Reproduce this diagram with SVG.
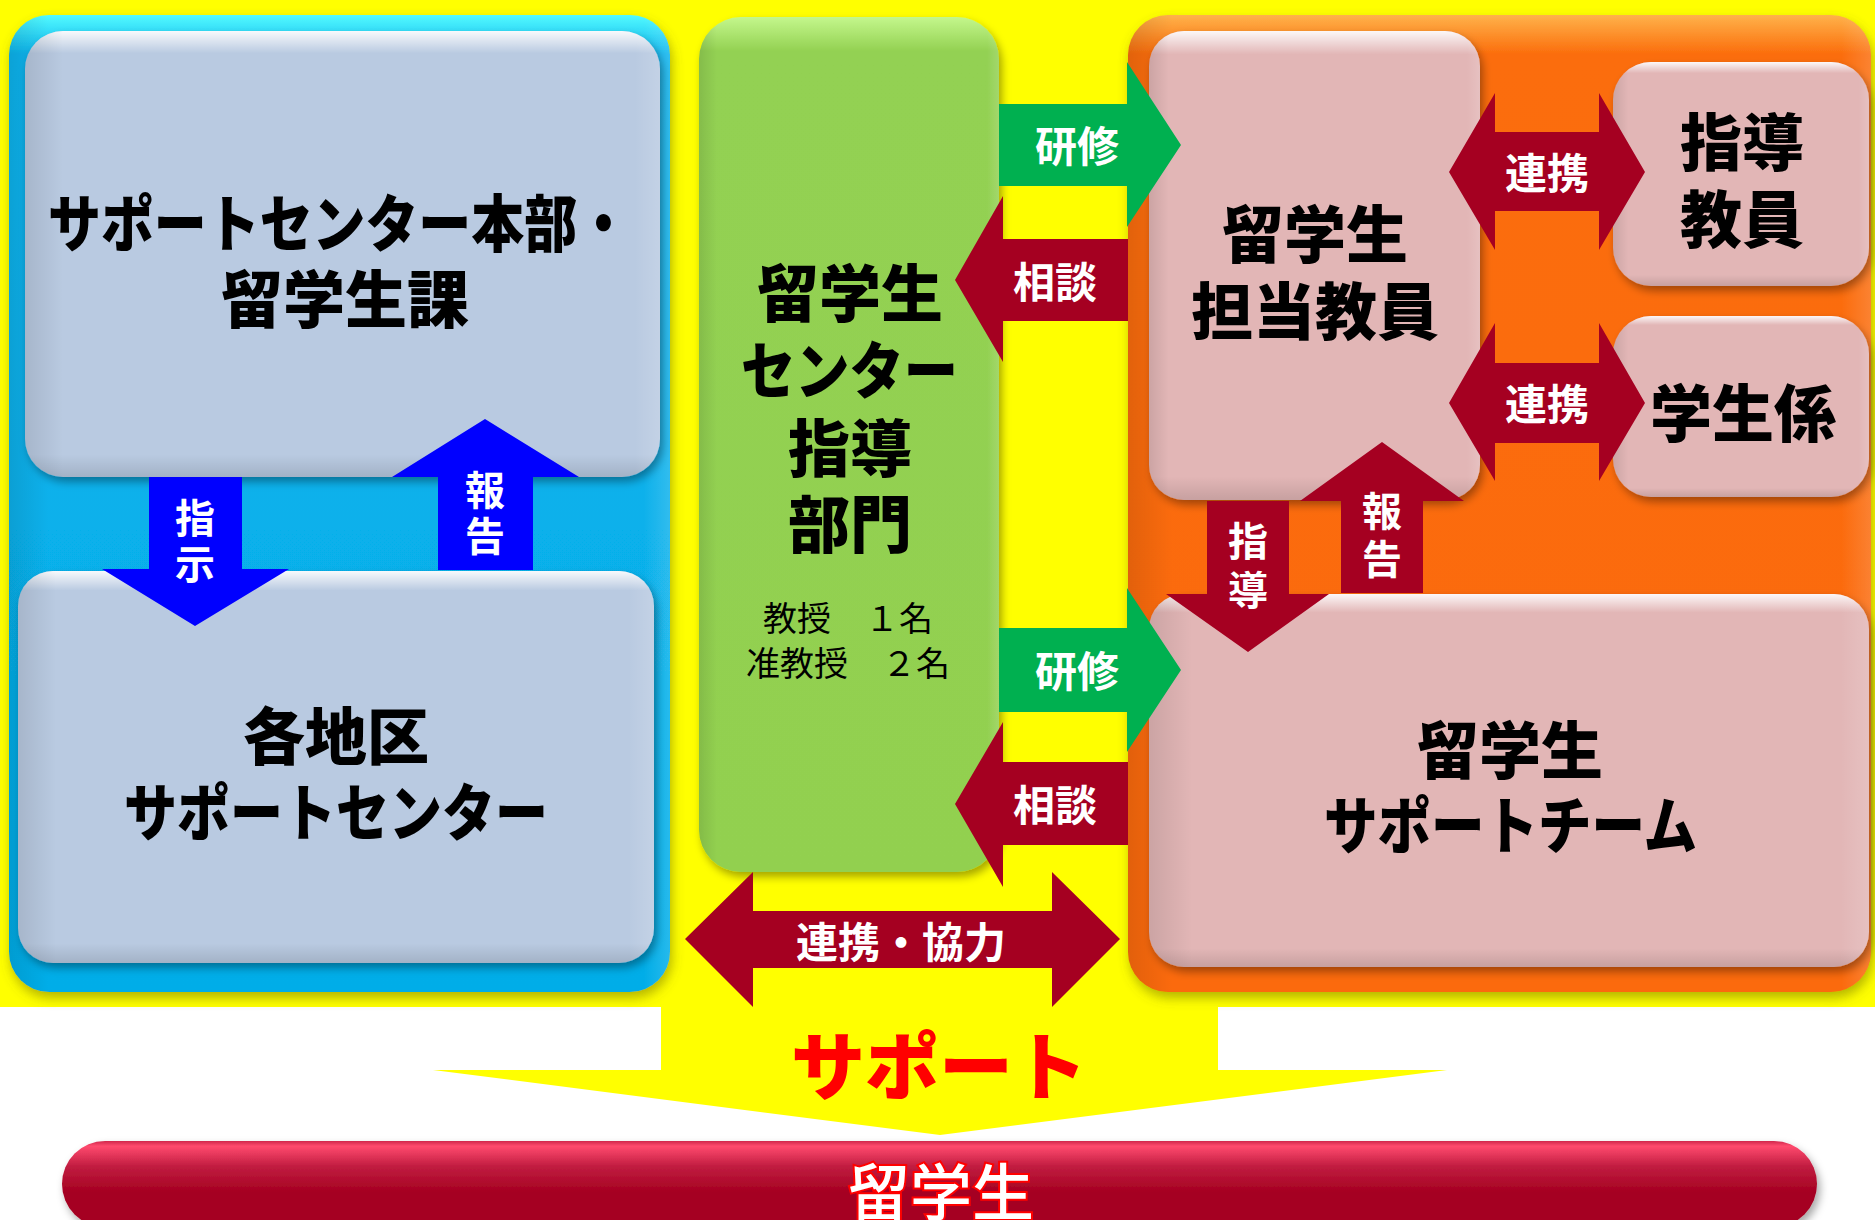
<svg xmlns="http://www.w3.org/2000/svg" width="1875" height="1220" viewBox="0 0 1875 1220">
<defs>
<style>
.t{font-family:"Noto Sans CJK JP","Noto Sans CJK SC",sans-serif;font-weight:900;fill:#000;dominant-baseline:central;text-anchor:middle}
.t.s{text-anchor:start}
.big{font-size:62px}
.w{fill:#fff;font-size:42px;font-weight:700}
.v{fill:#fff;font-size:40px;font-weight:700}
.sm{font-size:34px;font-weight:400}
.blueA{fill:#0000ff}
.redA{fill:#a50021}
.greenA{fill:#00b050}
</style>
<filter id="sh" x="-10%" y="-10%" width="125%" height="125%">
<feDropShadow dx="3" dy="5" stdDeviation="4" flood-color="#000" flood-opacity="0.35"/>
</filter>
<filter id="shc" x="-10%" y="-10%" width="125%" height="125%">
<feDropShadow dx="2" dy="6" stdDeviation="6" flood-color="#5a5a00" flood-opacity="0.45"/>
</filter>
<linearGradient id="bevV" x1="0" y1="0" x2="0" y2="1">
<stop offset="0" stop-color="#fff" stop-opacity="0.9"/>
<stop offset="0.05" stop-color="#fff" stop-opacity="0"/>
<stop offset="0.95" stop-color="#000" stop-opacity="0"/>
<stop offset="1" stop-color="#000" stop-opacity="0.12"/>
</linearGradient>
<linearGradient id="bevH" x1="0" y1="0" x2="1" y2="0">
<stop offset="0" stop-color="#000" stop-opacity="0.1"/>
<stop offset="0.06" stop-color="#000" stop-opacity="0"/>
<stop offset="0.96" stop-color="#fff" stop-opacity="0"/>
<stop offset="1" stop-color="#fff" stop-opacity="0.15"/>
</linearGradient>
<linearGradient id="blueC" x1="0" y1="0" x2="0" y2="1">
<stop offset="0" stop-color="#52faff"/>
<stop offset="0.04" stop-color="#0ab4ee"/>
<stop offset="1" stop-color="#04ade8"/>
</linearGradient>
<linearGradient id="orC" x1="0" y1="0" x2="0" y2="1">
<stop offset="0" stop-color="#ffb24a"/>
<stop offset="0.04" stop-color="#fb6d0c"/>
<stop offset="1" stop-color="#fb6a08"/>
</linearGradient>
<linearGradient id="grC" x1="0" y1="0" x2="0" y2="1">
<stop offset="0" stop-color="#c4f78c"/>
<stop offset="0.04" stop-color="#93d152"/>
<stop offset="1" stop-color="#92d050"/>
</linearGradient>
<linearGradient id="barG" x1="0" y1="0" x2="0" y2="1">
<stop offset="0" stop-color="#d0284c"/>
<stop offset="0.06" stop-color="#ff4a6e"/>
<stop offset="0.3" stop-color="#c01c40"/>
<stop offset="0.6" stop-color="#a50021"/>
<stop offset="1" stop-color="#a50021"/>
</linearGradient>
</defs>
<rect x="0" y="0" width="1875" height="1220" fill="#fff"/>
<rect x="0" y="0" width="1875" height="1007" fill="#ffff00"/>
<path d="M661,1006 H1218 V1070 H1447 L940,1135 L433,1070 H661 Z" fill="#ffff00"/>

<g id="container-left">
<rect x="9" y="15" width="661" height="977" rx="40" fill="url(#blueC)" filter="url(#shc)"/>
<rect x="9" y="15" width="661" height="977" rx="40" fill="url(#bevH)"/>
</g>
<g id="container-right">
<rect x="1128" y="15" width="743" height="977" rx="40" fill="url(#orC)" filter="url(#shc)"/>
<rect x="1128" y="15" width="743" height="977" rx="40" fill="url(#bevH)"/>
</g>

<g id="node-honbu">
<rect x="25" y="31" width="635" height="446" rx="38" fill="#b9cae1" filter="url(#sh)"/>
<rect x="25" y="31" width="635" height="446" rx="38" fill="url(#bevV)"/>
<rect x="25" y="31" width="635" height="446" rx="38" fill="url(#bevH)"/>
<text class="t s big" x="48" y="220" textLength="582" lengthAdjust="spacingAndGlyphs">サポートセンター本部・</text>
<text class="t big" x="345" y="296">留学生課</text>
</g>
<g id="node-chiku">
<rect x="18" y="571" width="636" height="392" rx="35" fill="#b9cae1" filter="url(#sh)"/>
<rect x="18" y="571" width="636" height="392" rx="35" fill="url(#bevV)"/>
<rect x="18" y="571" width="636" height="392" rx="35" fill="url(#bevH)"/>
<text class="t big" x="336" y="733">各地区</text>
<text class="t s big" x="124" y="809" textLength="424" lengthAdjust="spacingAndGlyphs">サポートセンター</text>
</g>
<g id="node-center">
<rect x="699" y="17" width="300" height="855" rx="42" fill="url(#grC)" filter="url(#sh)"/>
<rect x="699" y="17" width="300" height="855" rx="42" fill="url(#bevH)"/>
<text class="t big" x="850" y="290">留学生</text>
<text class="t s big" x="741" y="367" textLength="217" lengthAdjust="spacingAndGlyphs">センター</text>
<text class="t big" x="850" y="445">指導</text>
<text class="t big" x="850" y="521">部門</text>
<text class="t sm" x="848" y="616">教授　１名</text>
<text class="t sm" x="848" y="661">准教授　２名</text>
</g>
<g id="node-tanto">
<rect x="1149" y="31" width="331" height="469" rx="35" fill="#e2b6b6" filter="url(#sh)"/>
<rect x="1149" y="31" width="331" height="469" rx="35" fill="url(#bevV)"/>
<rect x="1149" y="31" width="331" height="469" rx="35" fill="url(#bevH)"/>
<text class="t big" x="1315" y="231">留学生</text>
<text class="t big" x="1315" y="308">担当教員</text>
</g>
<g id="node-shido">
<rect x="1613" y="62" width="256" height="224" rx="38" fill="#e2b6b6" filter="url(#sh)"/>
<rect x="1613" y="62" width="256" height="224" rx="38" fill="url(#bevV)"/>
<rect x="1613" y="62" width="256" height="224" rx="38" fill="url(#bevH)"/>
<text class="t big" x="1742" y="139">指導</text>
<text class="t big" x="1742" y="216">教員</text>
</g>
<g id="node-gakusei">
<rect x="1613" y="316" width="256" height="181" rx="38" fill="#e2b6b6" filter="url(#sh)"/>
<rect x="1613" y="316" width="256" height="181" rx="38" fill="url(#bevV)"/>
<rect x="1613" y="316" width="256" height="181" rx="38" fill="url(#bevH)"/>
<text class="t big" x="1743" y="410">学生係</text>
</g>
<g id="node-team">
<rect x="1149" y="594" width="720" height="373" rx="35" fill="#e2b6b6" filter="url(#sh)"/>
<rect x="1149" y="594" width="720" height="373" rx="35" fill="url(#bevV)"/>
<rect x="1149" y="594" width="720" height="373" rx="35" fill="url(#bevH)"/>
<text class="t big" x="1510" y="747">留学生</text>
<text class="t s big" x="1324" y="822" textLength="373" lengthAdjust="spacingAndGlyphs">サポートチーム</text>
</g>
<g id="node-ryugakusei">
<rect x="62" y="1141" width="1755" height="86" rx="43" fill="url(#barG)" filter="url(#sh)"/>
<text class="t" x="941" y="1189" style="font-size:62px;font-weight:500;fill:#fff;stroke:#ff0000;stroke-width:4px;paint-order:stroke">留学生</text>
</g>

<g id="connectors">
<path class="blueA" d="M149,477 H242 V569 H289 L195,626 L102,569 H149 Z"/>
<path class="blueA" d="M438,570 V477 H392 L485,419 L579,477 H533 V570 Z"/>
<path class="greenA" d="M999,104 H1127 V62 L1181,145 L1127,227 V186 H999 Z"/>
<path class="greenA" d="M999,628 H1127 V588 L1181,670 L1127,752 V712 H999 Z"/>
<path class="redA" d="M1128,239 H1003 V196 L955,280 L1003,362 V321 H1128 Z"/>
<path class="redA" d="M1128,762 H1003 V722 L955,804 L1003,887 V845 H1128 Z"/>
<path class="redA" d="M685,939 L753,872 V911 H1052 V872 L1120,939 L1052,1007 V968 H753 V1007 Z"/>
<path class="redA" d="M1449,172 L1495,93 V132 H1599 V93 L1645,172 L1599,250 V211 H1495 V250 Z"/>
<path class="redA" d="M1449,403 L1495,323 V363 H1599 V323 L1645,403 L1599,481 V443 H1495 V481 Z"/>
<path class="redA" d="M1207,501 H1289 V594 H1329 L1248,652 L1166,594 H1207 Z"/>
<path class="redA" d="M1341,593 V501 H1300 L1382,442 L1464,501 H1423 V593 Z"/>
<text class="t v" x="195" y="516">指</text>
<text class="t v" x="195" y="562">示</text>
<text class="t v" x="485" y="488">報</text>
<text class="t v" x="485" y="534">告</text>
<text class="t w" x="1077" y="143">研修</text>
<text class="t w" x="1077" y="668">研修</text>
<text class="t w" x="1055" y="279">相談</text>
<text class="t w" x="1055" y="802">相談</text>
<text class="t w" x="901" y="939">連携・協力</text>
<text class="t w" x="1547" y="170">連携</text>
<text class="t w" x="1547" y="401">連携</text>
<text class="t v" x="1248" y="539">指</text>
<text class="t v" x="1248" y="588">導</text>
<text class="t v" x="1382" y="509">報</text>
<text class="t v" x="1382" y="557">告</text>
</g>
<text class="t" x="939" y="1061" style="font-size:74px;fill:#ff0000;font-weight:900">サポート</text>
</svg>
